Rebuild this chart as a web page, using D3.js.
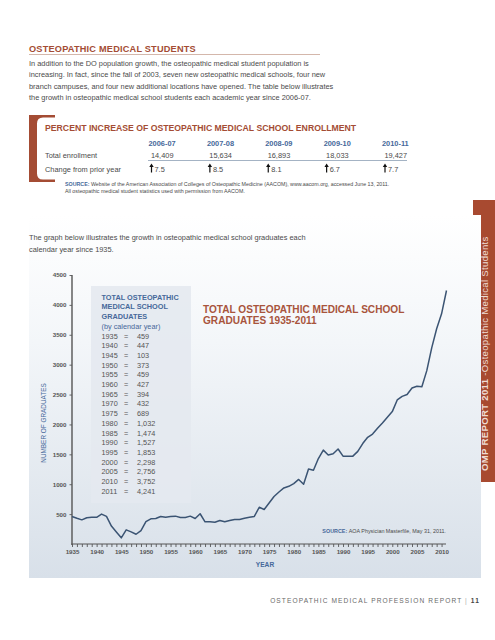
<!DOCTYPE html>
<html><head><meta charset="utf-8">
<script src="https://cdn.jsdelivr.net/npm/d3@7"></script>
<style>
body{margin:0;background:#fff;}
svg{display:block;font-family:"Liberation Sans",Arial,Helvetica,sans-serif;}
</style></head>
<body>
<script>
// ---------- DATA ----------
const years = [1935,1936,1937,1938,1939,1940,1941,1942,1943,1944,1945,1946,1947,1948,1949,1950,1951,1952,1953,1954,1955,1956,1957,1958,1959,1960,1961,1962,1963,1964,1965,1966,1967,1968,1969,1970,1971,1972,1973,1974,1975,1976,1977,1978,1979,1980,1981,1982,1983,1984,1985,1986,1987,1988,1989,1990,1991,1992,1993,1994,1995,1996,1997,1998,1999,2000,2001,2002,2003,2004,2005,2006,2007,2008,2009,2010,2011];
const graduates = [459,430,404,440,449,447,500,461,300,200,103,236,202,163,225,373,421,427,461,449,459,466,444,444,466,427,506,371,371,365,394,371,393,410,410,432,449,461,615,578,685,795,870,938,965,1010,1080,1000,1255,1235,1430,1570,1490,1510,1590,1470,1470,1470,1550,1680,1785,1840,1935,2025,2120,2215,2410,2470,2500,2610,2640,2630,2900,3280,3600,3850,4241];
const boxYears = [1935,1940,1945,1950,1955,1960,1965,1970,1975,1980,1985,1990,1995,2000,2005,2010,2011];
const boxValues = ["459","447","103","373","459","427","394","432","689","1,032","1,474","1,527","1,853","2,298","2,756","3,752","4,241"];
const yTicks = [500,1000,1500,2000,2500,3000,3500,4000,4500];
const xTickLabels = [1935,1940,1945,1950,1955,1960,1965,1970,1975,1980,1985,1990,1995,2000,2005,2010];
const tableYears = ["2006-07","2007-08","2008-09","2009-10","2010-11"];
const enrollment = ["14,409","15,634","16,893","18,033","19,427"];
const changePct = ["7.5","8.5","8.1","6.7","7.7"];
const introLines = [
 "In addition to the DO population growth, the osteopathic medical student population is",
 "increasing. In fact, since the fall of 2003, seven new osteopathic medical schools, four new",
 "branch campuses, and four new additional locations have opened. The table below illustrates",
 "the growth in osteopathic medical school students each academic year since 2006-07."];
const graphIntro = ["The graph below illustrates the growth in osteopathic medical school graduates each","calendar year since 1935."];

// ---------- STYLE ----------
const RUST = "#a44c34", BLUE = "#46689a", TXT = "#4a4a4a", LINE = "#3b5473";

const svg = d3.select("body").append("svg").attr("width",495).attr("height",640);
const defs = svg.append("defs");
const grad = defs.append("linearGradient").attr("id","bg").attr("x1",0).attr("y1",0).attr("x2",0).attr("y2",1);
grad.append("stop").attr("offset","0%").attr("stop-color","#ffffff");
grad.append("stop").attr("offset","35%").attr("stop-color","#f3f6f9");
grad.append("stop").attr("offset","100%").attr("stop-color","#d8e0e9");

// ---------- HEADER ----------
svg.append("text").attr("x",29).attr("y",52).attr("fill",RUST).attr("font-size",9.2).attr("font-weight","bold")
  .attr("letter-spacing",0.2).text("OSTEOPATHIC MEDICAL STUDENTS");
svg.append("line").attr("x1",29).attr("x2",320).attr("y1",54.5).attr("y2",54.5).attr("stroke","#c9a596").attr("stroke-width",0.8);
svg.append("g").selectAll("text").data(introLines).join("text")
  .attr("x",29).attr("y",(d,i)=>66+i*11.4).attr("fill",TXT).attr("font-size",7.4).text(d=>d);

// ---------- TABLE ----------
svg.append("path").attr("fill",RUST)
  .attr("d","M55,115 H29 V182 H55 V179.5 H43 Q37,179.5 37,173.5 V123.5 Q37,117.5 43,117.5 H55 Z");
svg.append("text").attr("x",45).attr("y",131).attr("fill",RUST).attr("font-size",8.7).attr("font-weight","bold")
  .text("PERCENT INCREASE OF OSTEOPATHIC MEDICAL SCHOOL ENROLLMENT");
const colX = d3.scalePoint().domain(tableYears).range([148.5,382]);
svg.append("g").selectAll("text").data(tableYears).join("text")
  .attr("x",d=>colX(d)).attr("y",145.5).attr("fill",BLUE).attr("font-size",7.4).attr("font-weight","bold").text(d=>d);
svg.append("text").attr("x",45).attr("y",158).attr("fill",TXT).attr("font-size",7.4).text("Total enrollment");
svg.append("g").selectAll("text").data(enrollment).join("text")
  .attr("x",(d,i)=>colX(tableYears[i])+25).attr("y",158).attr("text-anchor","end").attr("fill",TXT).attr("font-size",7.4).text(d=>d);
svg.append("line").attr("x1",148).attr("x2",407).attr("y1",160.5).attr("y2",160.5).attr("stroke","#8d9fb5").attr("stroke-width",0.8);
svg.append("text").attr("x",45).attr("y",172).attr("fill",TXT).attr("font-size",7.4).text("Change from prior year");
const ch = svg.append("g").selectAll("g").data(changePct).join("g")
  .attr("transform",(d,i)=>`translate(${colX(tableYears[i])+3},0)`);
ch.append("path").attr("fill","#111").attr("d","M0,163.5 L2.2,167 L0.6,167 L0.6,172.5 L-0.6,172.5 L-0.6,167 L-2.2,167 Z");
ch.append("text").attr("x",3).attr("y",172).attr("fill",TXT).attr("font-size",7.4).text(d=>d);
const src1 = svg.append("text").attr("x",65).attr("y",186).attr("font-size",5.3).attr("fill",TXT);
src1.append("tspan").attr("fill",BLUE).attr("font-weight","bold").text("SOURCE: ");
src1.append("tspan").text("Website of the American Association of Colleges of Osteopathic Medicine (AACOM), www.aacom.org, accessed June 13, 2011.");
svg.append("text").attr("x",65).attr("y",192.5).attr("font-size",5.3).attr("fill",TXT)
  .text("All osteopathic medical student statistics used with permission from AACOM.");

// ---------- SIDEBAR ----------
svg.append("rect").attr("x",473).attr("y",200).attr("width",22).attr("height",282).attr("fill","#a84a30");
const side = svg.append("text").attr("transform","translate(487.5,471) rotate(-90)").attr("fill","#efdcd5").attr("font-size",9.6).attr("letter-spacing",0.3);
side.append("tspan").attr("font-weight","bold").text("OMP REPORT 2011");
side.append("tspan").text(" -Osteopathic Medical Students");

// ---------- CHART PANEL ----------
svg.append("rect").attr("x",29).attr("y",215).attr("width",452).attr("height",363).attr("fill","url(#bg)");
svg.append("g").selectAll("text").data(graphIntro).join("text")
  .attr("x",29).attr("y",(d,i)=>240+i*12).attr("fill",TXT).attr("font-size",7.4).text(d=>d);

const x = d3.scaleLinear().domain([1935,2011]).range([72,446.5]);
const y = d3.scaleLinear().domain([0,4500]).range([544,275]);

// info box
svg.append("rect").attr("x",91).attr("y",286).attr("width",100).attr("height",217).attr("fill","#e4e9ef").attr("opacity",0.9);
const boxTitle = ["TOTAL OSTEOPATHIC","MEDICAL SCHOOL","GRADUATES","(by calendar year)"];
svg.append("g").selectAll("text").data(boxTitle).join("text")
  .attr("x",101.5).attr("y",(d,i)=>299.5+i*9.7).attr("fill",BLUE).attr("font-size",7.3).attr("font-weight",(d,i)=>i<3?"bold":"normal")
  .text(d=>d);
const rows = svg.append("g").selectAll("g").data(boxYears).join("g").attr("transform",(d,i)=>`translate(0,${338.5+i*9.7})`);
rows.append("text").attr("x",101.5).attr("fill","#555").attr("font-size",7.3).text(d=>d);
rows.append("text").attr("x",124).attr("fill","#555").attr("font-size",7.3).text("=");
rows.append("text").attr("x",137).attr("fill","#555").attr("font-size",7.3).text((d,i)=>boxValues[i]);

// chart title
svg.append("g").selectAll("text").data(["TOTAL OSTEOPATHIC MEDICAL SCHOOL","GRADUATES 1935-2011"]).join("text")
  .attr("x",203).attr("y",(d,i)=>313+i*11.3).attr("fill","#a8543c").attr("font-size",10.1).attr("font-weight","bold").text(d=>d);

// axes
const yAxis = svg.append("g").attr("transform","translate(72,0)")
  .call(d3.axisLeft(y).tickValues(yTicks).tickSize(2.5).tickPadding(3).tickFormat(d3.format("d")));
const xAxis = svg.append("g").attr("transform","translate(0,544)")
  .call(d3.axisBottom(x).tickValues(years.filter(v=>v<=2010)).tickSize(3).tickPadding(3)
    .tickFormat(v=>xTickLabels.includes(v)?String(v):""));
[yAxis,xAxis].forEach(a=>{
  a.select(".domain").remove();
  a.selectAll(".tick line").attr("stroke","#444").attr("stroke-width",0.8);
  a.selectAll(".tick text").attr("fill","#555").attr("font-size",6.2).attr("font-weight","bold")
    .attr("font-family","'Liberation Sans',Arial,sans-serif");
});
svg.append("line").attr("x1",72).attr("x2",72).attr("y1",y(4500)).attr("y2",545).attr("stroke","#555").attr("stroke-width",1.4);
svg.append("line").attr("x1",71.3).attr("x2",446).attr("y1",544).attr("y2",544).attr("stroke","#555").attr("stroke-width",1.2);

// axis titles
svg.append("text").attr("transform","translate(45.5,423) rotate(-90)").attr("text-anchor","middle")
  .attr("fill",BLUE).attr("font-size",6.4).text("NUMBER OF GRADUATES");
svg.append("text").attr("x",265).attr("y",567).attr("text-anchor","middle").attr("fill",BLUE).attr("font-size",6.6).attr("font-weight","bold").text("YEAR");

// line
svg.append("path").datum(years.map((yr,i)=>[yr,graduates[i]]))
  .attr("fill","none").attr("stroke",LINE).attr("stroke-width",1.5).attr("stroke-linejoin","round")
  .attr("d",d3.line().x(d=>x(d[0])).y(d=>y(d[1])));

// source
const src2 = svg.append("text").attr("x",446).attr("y",533).attr("text-anchor","end").attr("font-size",5.4).attr("fill",TXT);
src2.append("tspan").attr("fill",BLUE).attr("font-weight","bold").text("SOURCE: ");
src2.append("tspan").text("AOA Physician Masterfile, May 31, 2011.");

// footer
const foot = svg.append("text").attr("x",480).attr("y",603).attr("text-anchor","end").attr("font-size",6.6).attr("fill","#6a6a6a").attr("letter-spacing",1.1);
foot.append("tspan").text("OSTEOPATHIC MEDICAL PROFESSION REPORT ");
foot.append("tspan").attr("fill","#aaa").text("| ");
foot.append("tspan").attr("font-weight","bold").attr("fill","#444").text("11");
</script>
</body></html>
